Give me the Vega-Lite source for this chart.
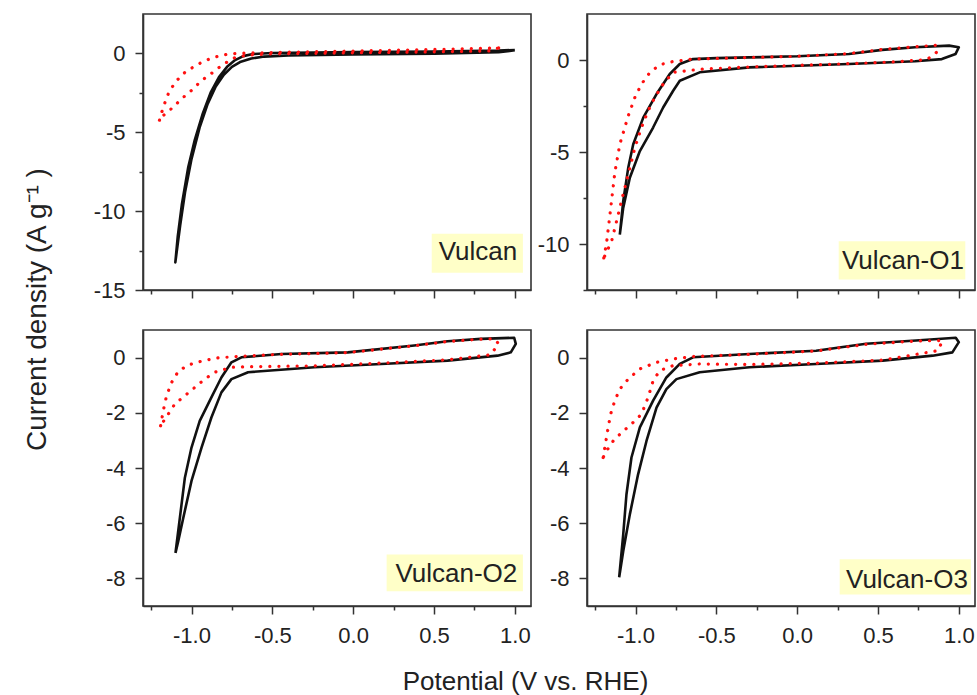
{
  "$schema": "https://vega.github.io/schema/vega-lite/v6.json",
  "padding": {"left": 22, "top": 13, "right": 2, "bottom": 0},
  "background": "white",
  "config": {
    "font": "Liberation Sans",
    "view": {"stroke": "#333333", "strokeWidth": 1.6},
    "axis": {"domainColor": "#333333", "domainWidth": 1.6, "tickColor": "#333333", "tickWidth": 1.5, "labelFontSize": 22, "labelColor": "#222222", "labelFont": "Liberation Sans", "titleFont": "Liberation Sans", "titleFontSize": 26, "titleFontWeight": "normal", "titleColor": "#222222", "grid": false, "labelFlush": false, "labelOverlap": false}
  },
  "datasets": {
    "cv": [
      {"panel":"V","series":"b","i":0,"E":1.0,"j":0.2},
      {"panel":"V","series":"b","i":1,"E":0.9,"j":0.08},
      {"panel":"V","series":"b","i":2,"E":0.5,"j":-0.02},
      {"panel":"V","series":"b","i":3,"E":0.0,"j":-0.07},
      {"panel":"V","series":"b","i":4,"E":-0.4,"j":-0.13},
      {"panel":"V","series":"b","i":5,"E":-0.55,"j":-0.2},
      {"panel":"V","series":"b","i":6,"E":-0.63,"j":-0.32},
      {"panel":"V","series":"b","i":7,"E":-0.7,"j":-0.55},
      {"panel":"V","series":"b","i":8,"E":-0.75,"j":-0.85},
      {"panel":"V","series":"b","i":9,"E":-0.8,"j":-1.35},
      {"panel":"V","series":"b","i":10,"E":-0.85,"j":-2.1},
      {"panel":"V","series":"b","i":11,"E":-0.9,"j":-3.2},
      {"panel":"V","series":"b","i":12,"E":-0.95,"j":-4.7},
      {"panel":"V","series":"b","i":13,"E":-1.0,"j":-6.7},
      {"panel":"V","series":"b","i":14,"E":-1.04,"j":-8.8},
      {"panel":"V","series":"b","i":15,"E":-1.07,"j":-10.9},
      {"panel":"V","series":"b","i":16,"E":-1.1,"j":-13.25},
      {"panel":"V","series":"b","i":17,"E":-1.085,"j":-11.6},
      {"panel":"V","series":"b","i":18,"E":-1.06,"j":-9.6},
      {"panel":"V","series":"b","i":19,"E":-1.02,"j":-7.2},
      {"panel":"V","series":"b","i":20,"E":-0.98,"j":-5.5},
      {"panel":"V","series":"b","i":21,"E":-0.93,"j":-3.8},
      {"panel":"V","series":"b","i":22,"E":-0.88,"j":-2.45},
      {"panel":"V","series":"b","i":23,"E":-0.83,"j":-1.5},
      {"panel":"V","series":"b","i":24,"E":-0.78,"j":-0.85},
      {"panel":"V","series":"b","i":25,"E":-0.73,"j":-0.42},
      {"panel":"V","series":"b","i":26,"E":-0.68,"j":-0.17},
      {"panel":"V","series":"b","i":27,"E":-0.62,"j":-0.04},
      {"panel":"V","series":"b","i":28,"E":-0.5,"j":0.03},
      {"panel":"V","series":"b","i":29,"E":0.0,"j":0.08},
      {"panel":"V","series":"b","i":30,"E":0.5,"j":0.12},
      {"panel":"V","series":"b","i":31,"E":0.9,"j":0.18},
      {"panel":"V","series":"b","i":32,"E":1.0,"j":0.22},

      {"panel":"V","series":"r","i":0,"E":0.9,"j":0.35},
      {"panel":"V","series":"r","i":1,"E":0.5,"j":0.25},
      {"panel":"V","series":"r","i":2,"E":0.0,"j":0.15},
      {"panel":"V","series":"r","i":3,"E":-0.5,"j":0.06},
      {"panel":"V","series":"r","i":4,"E":-0.7,"j":0.01},
      {"panel":"V","series":"r","i":5,"E":-0.784,"j":-0.06},
      {"panel":"V","series":"r","i":6,"E":-0.856,"j":-0.23},
      {"panel":"V","series":"r","i":7,"E":-0.928,"j":-0.51},
      {"panel":"V","series":"r","i":8,"E":-0.99,"j":-0.87},
      {"panel":"V","series":"r","i":9,"E":-1.04,"j":-1.19},
      {"panel":"V","series":"r","i":10,"E":-1.097,"j":-1.78},
      {"panel":"V","series":"r","i":11,"E":-1.14,"j":-2.46},
      {"panel":"V","series":"r","i":12,"E":-1.175,"j":-3.41},
      {"panel":"V","series":"r","i":13,"E":-1.2,"j":-4.3},
      {"panel":"V","series":"r","i":14,"E":-1.175,"j":-3.94},
      {"panel":"V","series":"r","i":15,"E":-1.113,"j":-3.41},
      {"panel":"V","series":"r","i":16,"E":-1.062,"j":-2.88},
      {"panel":"V","series":"r","i":17,"E":-1.0,"j":-2.35},
      {"panel":"V","series":"r","i":18,"E":-0.938,"j":-1.72},
      {"panel":"V","series":"r","i":19,"E":-0.866,"j":-1.19},
      {"panel":"V","series":"r","i":20,"E":-0.805,"j":-0.7},
      {"panel":"V","series":"r","i":21,"E":-0.733,"j":-0.27},
      {"panel":"V","series":"r","i":22,"E":-0.65,"j":-0.1},
      {"panel":"V","series":"r","i":23,"E":-0.5,"j":-0.03},
      {"panel":"V","series":"r","i":24,"E":0.0,"j":0.04},
      {"panel":"V","series":"r","i":25,"E":0.5,"j":0.1},
      {"panel":"V","series":"r","i":26,"E":0.85,"j":0.16},
      {"panel":"V","series":"r","i":27,"E":0.9,"j":0.35},

      {"panel":"O1","series":"b","i":0,"E":-1.097,"j":-9.49},
      {"panel":"O1","series":"b","i":1,"E":-1.076,"j":-7.67},
      {"panel":"O1","series":"b","i":2,"E":-1.045,"j":-5.86},
      {"panel":"O1","series":"b","i":3,"E":-1.014,"j":-4.58},
      {"panel":"O1","series":"b","i":4,"E":-0.952,"j":-3.13},
      {"panel":"O1","series":"b","i":5,"E":-0.87,"j":-1.85},
      {"panel":"O1","series":"b","i":6,"E":-0.788,"j":-0.76},
      {"panel":"O1","series":"b","i":7,"E":-0.726,"j":-0.22},
      {"panel":"O1","series":"b","i":8,"E":-0.644,"j":0.05},
      {"panel":"O1","series":"b","i":9,"E":-0.5,"j":0.1},
      {"panel":"O1","series":"b","i":10,"E":-0.296,"j":0.14},
      {"panel":"O1","series":"b","i":11,"E":0.0,"j":0.2},
      {"panel":"O1","series":"b","i":12,"E":0.32,"j":0.33},
      {"panel":"O1","series":"b","i":13,"E":0.526,"j":0.55},
      {"panel":"O1","series":"b","i":14,"E":0.73,"j":0.69},
      {"panel":"O1","series":"b","i":15,"E":0.94,"j":0.78},
      {"panel":"O1","series":"b","i":16,"E":1.0,"j":0.69},
      {"panel":"O1","series":"b","i":17,"E":0.98,"j":0.33},
      {"panel":"O1","series":"b","i":18,"E":0.895,"j":0.05},
      {"panel":"O1","series":"b","i":19,"E":0.73,"j":-0.07},
      {"panel":"O1","series":"b","i":20,"E":0.32,"j":-0.22},
      {"panel":"O1","series":"b","i":21,"E":-0.296,"j":-0.4},
      {"panel":"O1","series":"b","i":22,"E":-0.603,"j":-0.67},
      {"panel":"O1","series":"b","i":23,"E":-0.726,"j":-1.13},
      {"panel":"O1","series":"b","i":24,"E":-0.767,"j":-1.67},
      {"panel":"O1","series":"b","i":25,"E":-0.829,"j":-2.58},
      {"panel":"O1","series":"b","i":26,"E":-0.891,"j":-3.67},
      {"panel":"O1","series":"b","i":27,"E":-0.973,"j":-4.95},
      {"panel":"O1","series":"b","i":28,"E":-1.035,"j":-6.4},
      {"panel":"O1","series":"b","i":29,"E":-1.076,"j":-8.04},
      {"panel":"O1","series":"b","i":30,"E":-1.097,"j":-9.49},

      {"panel":"O1","series":"r","i":0,"E":-1.196,"j":-10.76},
      {"panel":"O1","series":"r","i":1,"E":-1.179,"j":-9.94},
      {"panel":"O1","series":"r","i":2,"E":-1.158,"j":-8.4},
      {"panel":"O1","series":"r","i":3,"E":-1.128,"j":-6.13},
      {"panel":"O1","series":"r","i":4,"E":-1.097,"j":-4.58},
      {"panel":"O1","series":"r","i":5,"E":-1.045,"j":-3.04},
      {"panel":"O1","series":"r","i":6,"E":-1.004,"j":-2.04},
      {"panel":"O1","series":"r","i":7,"E":-0.963,"j":-1.31},
      {"panel":"O1","series":"r","i":8,"E":-0.911,"j":-0.68},
      {"panel":"O1","series":"r","i":9,"E":-0.85,"j":-0.26},
      {"panel":"O1","series":"r","i":10,"E":-0.767,"j":-0.08},
      {"panel":"O1","series":"r","i":11,"E":-0.644,"j":0.05},
      {"panel":"O1","series":"r","i":12,"E":-0.3,"j":0.14},
      {"panel":"O1","series":"r","i":13,"E":0.0,"j":0.2},
      {"panel":"O1","series":"r","i":14,"E":0.32,"j":0.35},
      {"panel":"O1","series":"r","i":15,"E":0.526,"j":0.57},
      {"panel":"O1","series":"r","i":16,"E":0.73,"j":0.72},
      {"panel":"O1","series":"r","i":17,"E":0.86,"j":0.8},
      {"panel":"O1","series":"r","i":18,"E":0.87,"j":0.5},
      {"panel":"O1","series":"r","i":19,"E":0.85,"j":0.3},
      {"panel":"O1","series":"r","i":20,"E":0.8,"j":0.02},
      {"panel":"O1","series":"r","i":21,"E":0.6,"j":-0.1},
      {"panel":"O1","series":"r","i":22,"E":0.32,"j":-0.2},
      {"panel":"O1","series":"r","i":23,"E":-0.3,"j":-0.38},
      {"panel":"O1","series":"r","i":24,"E":-0.6,"j":-0.5},
      {"panel":"O1","series":"r","i":25,"E":-0.767,"j":-0.67},
      {"panel":"O1","series":"r","i":26,"E":-0.829,"j":-1.31},
      {"panel":"O1","series":"r","i":27,"E":-0.881,"j":-2.04},
      {"panel":"O1","series":"r","i":28,"E":-0.922,"j":-2.76},
      {"panel":"O1","series":"r","i":29,"E":-0.963,"j":-3.67},
      {"panel":"O1","series":"r","i":30,"E":-1.004,"j":-4.77},
      {"panel":"O1","series":"r","i":31,"E":-1.045,"j":-6.22},
      {"panel":"O1","series":"r","i":32,"E":-1.087,"j":-7.67},
      {"panel":"O1","series":"r","i":33,"E":-1.117,"j":-8.76},
      {"panel":"O1","series":"r","i":34,"E":-1.148,"j":-9.85},
      {"panel":"O1","series":"r","i":35,"E":-1.196,"j":-10.76},

      {"panel":"O2","series":"b","i":0,"E":-1.099,"j":-7.08},
      {"panel":"O2","series":"b","i":1,"E":-1.072,"j":-5.81},
      {"panel":"O2","series":"b","i":2,"E":-1.041,"j":-4.35},
      {"panel":"O2","series":"b","i":3,"E":-1.0,"j":-3.26},
      {"panel":"O2","series":"b","i":4,"E":-0.949,"j":-2.29},
      {"panel":"O2","series":"b","i":5,"E":-0.877,"j":-1.44},
      {"panel":"O2","series":"b","i":6,"E":-0.815,"j":-0.72},
      {"panel":"O2","series":"b","i":7,"E":-0.753,"j":-0.17},
      {"panel":"O2","series":"b","i":8,"E":-0.691,"j":0.01},
      {"panel":"O2","series":"b","i":9,"E":-0.444,"j":0.13},
      {"panel":"O2","series":"b","i":10,"E":-0.033,"j":0.19},
      {"panel":"O2","series":"b","i":11,"E":0.378,"j":0.44},
      {"panel":"O2","series":"b","i":12,"E":0.584,"j":0.59},
      {"panel":"O2","series":"b","i":13,"E":0.79,"j":0.68},
      {"panel":"O2","series":"b","i":14,"E":0.996,"j":0.72},
      {"panel":"O2","series":"b","i":15,"E":1.006,"j":0.5},
      {"panel":"O2","series":"b","i":16,"E":0.975,"j":0.19},
      {"panel":"O2","series":"b","i":17,"E":0.893,"j":0.07},
      {"panel":"O2","series":"b","i":18,"E":0.584,"j":-0.11},
      {"panel":"O2","series":"b","i":19,"E":0.173,"j":-0.23},
      {"panel":"O2","series":"b","i":20,"E":-0.239,"j":-0.35},
      {"panel":"O2","series":"b","i":21,"E":-0.65,"j":-0.53},
      {"panel":"O2","series":"b","i":22,"E":-0.753,"j":-0.78},
      {"panel":"O2","series":"b","i":23,"E":-0.815,"j":-1.26},
      {"panel":"O2","series":"b","i":24,"E":-0.877,"j":-2.17},
      {"panel":"O2","series":"b","i":25,"E":-0.938,"j":-3.26},
      {"panel":"O2","series":"b","i":26,"E":-1.0,"j":-4.47},
      {"panel":"O2","series":"b","i":27,"E":-1.051,"j":-5.81},
      {"panel":"O2","series":"b","i":28,"E":-1.082,"j":-6.65},
      {"panel":"O2","series":"b","i":29,"E":-1.099,"j":-7.08},

      {"panel":"O2","series":"r","i":0,"E":-1.191,"j":-2.47},
      {"panel":"O2","series":"r","i":1,"E":-1.175,"j":-1.93},
      {"panel":"O2","series":"r","i":2,"E":-1.154,"j":-1.38},
      {"panel":"O2","series":"r","i":3,"E":-1.123,"j":-0.9},
      {"panel":"O2","series":"r","i":4,"E":-1.082,"j":-0.5},
      {"panel":"O2","series":"r","i":5,"E":-1.021,"j":-0.27},
      {"panel":"O2","series":"r","i":6,"E":-0.928,"j":-0.11},
      {"panel":"O2","series":"r","i":7,"E":-0.835,"j":-0.01},
      {"panel":"O2","series":"r","i":8,"E":-0.69,"j":0.05},
      {"panel":"O2","series":"r","i":9,"E":-0.444,"j":0.12},
      {"panel":"O2","series":"r","i":10,"E":-0.033,"j":0.18},
      {"panel":"O2","series":"r","i":11,"E":0.378,"j":0.43},
      {"panel":"O2","series":"r","i":12,"E":0.584,"j":0.58},
      {"panel":"O2","series":"r","i":13,"E":0.79,"j":0.67},
      {"panel":"O2","series":"r","i":14,"E":0.873,"j":0.68},
      {"panel":"O2","series":"r","i":15,"E":0.9,"j":0.5},
      {"panel":"O2","series":"r","i":16,"E":0.85,"j":0.1},
      {"panel":"O2","series":"r","i":17,"E":0.584,"j":-0.08},
      {"panel":"O2","series":"r","i":18,"E":0.173,"j":-0.2},
      {"panel":"O2","series":"r","i":19,"E":-0.239,"j":-0.3},
      {"panel":"O2","series":"r","i":20,"E":-0.65,"j":-0.33},
      {"panel":"O2","series":"r","i":21,"E":-0.753,"j":-0.35},
      {"panel":"O2","series":"r","i":22,"E":-0.856,"j":-0.53},
      {"panel":"O2","series":"r","i":23,"E":-0.918,"j":-0.78},
      {"panel":"O2","series":"r","i":24,"E":-0.979,"j":-1.08},
      {"panel":"O2","series":"r","i":25,"E":-1.041,"j":-1.38},
      {"panel":"O2","series":"r","i":26,"E":-1.103,"j":-1.68},
      {"panel":"O2","series":"r","i":27,"E":-1.144,"j":-2.05},
      {"panel":"O2","series":"r","i":28,"E":-1.191,"j":-2.47},

      {"panel":"O3","series":"b","i":0,"E":-1.101,"j":-7.96},
      {"panel":"O3","series":"b","i":1,"E":-1.076,"j":-6.41},
      {"panel":"O3","series":"b","i":2,"E":-1.056,"j":-4.96},
      {"panel":"O3","series":"b","i":3,"E":-1.025,"j":-3.62},
      {"panel":"O3","series":"b","i":4,"E":-0.973,"j":-2.53},
      {"panel":"O3","series":"b","i":5,"E":-0.891,"j":-1.56},
      {"panel":"O3","series":"b","i":6,"E":-0.809,"j":-0.72},
      {"panel":"O3","series":"b","i":7,"E":-0.726,"j":-0.23},
      {"panel":"O3","series":"b","i":8,"E":-0.644,"j":0.01},
      {"panel":"O3","series":"b","i":9,"E":-0.296,"j":0.13},
      {"panel":"O3","series":"b","i":10,"E":0.117,"j":0.25},
      {"panel":"O3","series":"b","i":11,"E":0.426,"j":0.5},
      {"panel":"O3","series":"b","i":12,"E":0.735,"j":0.62},
      {"panel":"O3","series":"b","i":13,"E":0.981,"j":0.72},
      {"panel":"O3","series":"b","i":14,"E":1.0,"j":0.56},
      {"panel":"O3","series":"b","i":15,"E":0.96,"j":0.19},
      {"panel":"O3","series":"b","i":16,"E":0.838,"j":0.07},
      {"panel":"O3","series":"b","i":17,"E":0.529,"j":-0.11},
      {"panel":"O3","series":"b","i":18,"E":0.117,"j":-0.23},
      {"panel":"O3","series":"b","i":19,"E":-0.296,"j":-0.35},
      {"panel":"O3","series":"b","i":20,"E":-0.603,"j":-0.53},
      {"panel":"O3","series":"b","i":21,"E":-0.747,"j":-0.78},
      {"panel":"O3","series":"b","i":22,"E":-0.809,"j":-1.14},
      {"panel":"O3","series":"b","i":23,"E":-0.87,"j":-1.81},
      {"panel":"O3","series":"b","i":24,"E":-0.932,"j":-3.02},
      {"panel":"O3","series":"b","i":25,"E":-0.984,"j":-4.23},
      {"panel":"O3","series":"b","i":26,"E":-1.035,"j":-5.68},
      {"panel":"O3","series":"b","i":27,"E":-1.076,"j":-7.02},
      {"panel":"O3","series":"b","i":28,"E":-1.101,"j":-7.96},

      {"panel":"O3","series":"r","i":0,"E":-1.2,"j":-3.62},
      {"panel":"O3","series":"r","i":1,"E":-1.183,"j":-3.02},
      {"panel":"O3","series":"r","i":2,"E":-1.169,"j":-2.53},
      {"panel":"O3","series":"r","i":3,"E":-1.154,"j":-2.05},
      {"panel":"O3","series":"r","i":4,"E":-1.128,"j":-1.56},
      {"panel":"O3","series":"r","i":5,"E":-1.097,"j":-1.14},
      {"panel":"O3","series":"r","i":6,"E":-1.045,"j":-0.78},
      {"panel":"O3","series":"r","i":7,"E":-0.973,"j":-0.41},
      {"panel":"O3","series":"r","i":8,"E":-0.87,"j":-0.17},
      {"panel":"O3","series":"r","i":9,"E":-0.767,"j":-0.05},
      {"panel":"O3","series":"r","i":10,"E":-0.644,"j":0.04},
      {"panel":"O3","series":"r","i":11,"E":-0.296,"j":0.12},
      {"panel":"O3","series":"r","i":12,"E":0.117,"j":0.24},
      {"panel":"O3","series":"r","i":13,"E":0.426,"j":0.48},
      {"panel":"O3","series":"r","i":14,"E":0.735,"j":0.6},
      {"panel":"O3","series":"r","i":15,"E":0.9,"j":0.62},
      {"panel":"O3","series":"r","i":16,"E":0.87,"j":0.25},
      {"panel":"O3","series":"r","i":17,"E":0.529,"j":-0.09},
      {"panel":"O3","series":"r","i":18,"E":0.117,"j":-0.2},
      {"panel":"O3","series":"r","i":19,"E":-0.296,"j":-0.25},
      {"panel":"O3","series":"r","i":20,"E":-0.603,"j":-0.23},
      {"panel":"O3","series":"r","i":21,"E":-0.767,"j":-0.29},
      {"panel":"O3","series":"r","i":22,"E":-0.85,"j":-0.47},
      {"panel":"O3","series":"r","i":23,"E":-0.891,"j":-0.84},
      {"panel":"O3","series":"r","i":24,"E":-0.922,"j":-1.44},
      {"panel":"O3","series":"r","i":25,"E":-0.963,"j":-2.05},
      {"panel":"O3","series":"r","i":26,"E":-1.025,"j":-2.41},
      {"panel":"O3","series":"r","i":27,"E":-1.087,"j":-2.72},
      {"panel":"O3","series":"r","i":28,"E":-1.138,"j":-3.02},
      {"panel":"O3","series":"r","i":29,"E":-1.179,"j":-3.38},
      {"panel":"O3","series":"r","i":30,"E":-1.2,"j":-3.62}
    ]
  },
  "columns": 2,
  "bounds": "flush",
  "spacing": {"row": 40, "column": 56},
  "concat": [
    {
      "width": 388, "height": 276,
      "layer": [
        {
          "data": {"values": [{}]},
          "mark": {"type": "rect", "color": "#ffffc8"},
          "encoding": {
            "x": {"datum": 0.486, "type": "quantitative", "scale": {"domain": [-1.3, 1.1], "nice": false, "zero": false}}, "x2": {"datum": 1.05},
            "y": {"datum": -11.44, "type": "quantitative", "scale": {"domain": [-15, 2.5], "nice": false, "zero": false}}, "y2": {"datum": -13.91}
          }
        },
        {
          "data": {"name": "cv"},
          "transform": [{"filter": "datum.panel === 'V' && datum.series === 'b'"}],
          "mark": {"type": "line", "color": "#111111", "strokeWidth": 2.6, "strokeJoin": "round"},
          "encoding": {
            "x": {"field": "E", "type": "quantitative", "scale": {"domain": [-1.3, 1.1], "nice": false, "zero": false},
                  "axis": {"values": [-1.25,-1,-0.75,-0.5,-0.25,0,0.25,0.5,0.75,1], "labels": false, "title": null,
                           "tickSize": {"condition": {"test": "abs(datum.value*2 - round(datum.value*2)) < 0.01", "value": 8}, "value": 4}}},
            "y": {"field": "j", "type": "quantitative", "scale": {"domain": [-15, 2.5], "nice": false, "zero": false},
                  "axis": {"values": [-15,-12.5,-10,-7.5,-5,-2.5,0],
                           "labelExpr": "abs(datum.value/5 - round(datum.value/5)) < 0.01 ? '' + datum.value : ''",
                           "labelPadding": 10,
                           "tickSize": {"condition": {"test": "abs(datum.value/5 - round(datum.value/5)) < 0.01", "value": 8}, "value": 4},
                           "title": "Current density (A g⁻¹ )", "titleX": -98, "titleY": 295, "titleAngle": -90, "titleFontSize": 28,
                           "titleAlign": "center", "titleBaseline": "alphabetic"}},
            "order": {"field": "i", "type": "quantitative"}
          }
        },
        {
          "data": {"name": "cv"},
          "transform": [{"filter": "datum.panel === 'V' && datum.series === 'r'"}],
          "mark": {"type": "line", "color": "#ff1010", "strokeWidth": 3.2, "strokeDash": [0.1, 9], "strokeCap": "round"},
          "encoding": {
            "x": {"field": "E", "type": "quantitative", "scale": {"domain": [-1.3, 1.1], "nice": false, "zero": false}},
            "y": {"field": "j", "type": "quantitative", "scale": {"domain": [-15, 2.5], "nice": false, "zero": false}},
            "order": {"field": "i", "type": "quantitative"}
          }
        },
        {
          "data": {"values": [{}]},
          "mark": {"type": "text", "text": "Vulcan", "align": "right", "baseline": "middle", "fontSize": 26, "color": "#222222"},
          "encoding": {
            "x": {"datum": 1.015, "type": "quantitative", "scale": {"domain": [-1.3, 1.1], "nice": false, "zero": false}},
            "y": {"datum": -12.61, "type": "quantitative", "scale": {"domain": [-15, 2.5], "nice": false, "zero": false}}
          }
        }
      ]
    },
    {
      "width": 388, "height": 276,
      "layer": [
        {
          "data": {"values": [{}]},
          "mark": {"type": "rect", "color": "#ffffc8"},
          "encoding": {
            "x": {"datum": 0.257, "type": "quantitative", "scale": {"domain": [-1.3, 1.1], "nice": false, "zero": false}}, "x2": {"datum": 1.04},
            "y": {"datum": -9.85, "type": "quantitative", "scale": {"domain": [-12.5, 2.5], "nice": false, "zero": false}}, "y2": {"datum": -11.93}
          }
        },
        {
          "data": {"name": "cv"},
          "transform": [{"filter": "datum.panel === 'O1' && datum.series === 'b'"}],
          "mark": {"type": "line", "color": "#111111", "strokeWidth": 2.6, "strokeJoin": "round"},
          "encoding": {
            "x": {"field": "E", "type": "quantitative", "scale": {"domain": [-1.3, 1.1], "nice": false, "zero": false},
                  "axis": {"values": [-1.25,-1,-0.75,-0.5,-0.25,0,0.25,0.5,0.75,1], "labels": false, "title": null,
                           "tickSize": {"condition": {"test": "abs(datum.value*2 - round(datum.value*2)) < 0.01", "value": 8}, "value": 4}}},
            "y": {"field": "j", "type": "quantitative", "scale": {"domain": [-12.5, 2.5], "nice": false, "zero": false},
                  "axis": {"values": [-12.5,-10,-7.5,-5,-2.5,0],
                           "labelExpr": "abs(datum.value/5 - round(datum.value/5)) < 0.01 ? '' + datum.value : ''",
                           "labelPadding": 10,
                           "tickSize": {"condition": {"test": "abs(datum.value/5 - round(datum.value/5)) < 0.01", "value": 8}, "value": 4},
                           "title": null}},
            "order": {"field": "i", "type": "quantitative"}
          }
        },
        {
          "data": {"name": "cv"},
          "transform": [{"filter": "datum.panel === 'O1' && datum.series === 'r'"}],
          "mark": {"type": "line", "color": "#ff1010", "strokeWidth": 3.2, "strokeDash": [0.1, 9], "strokeCap": "round"},
          "encoding": {
            "x": {"field": "E", "type": "quantitative", "scale": {"domain": [-1.3, 1.1], "nice": false, "zero": false}},
            "y": {"field": "j", "type": "quantitative", "scale": {"domain": [-12.5, 2.5], "nice": false, "zero": false}},
            "order": {"field": "i", "type": "quantitative"}
          }
        },
        {
          "data": {"values": [{}]},
          "mark": {"type": "text", "text": "Vulcan-O1", "align": "right", "baseline": "middle", "fontSize": 26, "color": "#222222"},
          "encoding": {
            "x": {"datum": 1.031, "type": "quantitative", "scale": {"domain": [-1.3, 1.1], "nice": false, "zero": false}},
            "y": {"datum": -10.94, "type": "quantitative", "scale": {"domain": [-12.5, 2.5], "nice": false, "zero": false}}
          }
        }
      ]
    },
    {
      "width": 388, "height": 276,
      "layer": [
        {
          "data": {"values": [{}]},
          "mark": {"type": "rect", "color": "#ffffc8"},
          "encoding": {
            "x": {"datum": 0.207, "type": "quantitative", "scale": {"domain": [-1.3, 1.1], "nice": false, "zero": false}}, "x2": {"datum": 1.05},
            "y": {"datum": -7.13, "type": "quantitative", "scale": {"domain": [-9, 1], "nice": false, "zero": false}}, "y2": {"datum": -8.47}
          }
        },
        {
          "data": {"name": "cv"},
          "transform": [{"filter": "datum.panel === 'O2' && datum.series === 'b'"}],
          "mark": {"type": "line", "color": "#111111", "strokeWidth": 2.6, "strokeJoin": "round"},
          "encoding": {
            "x": {"field": "E", "type": "quantitative", "scale": {"domain": [-1.3, 1.1], "nice": false, "zero": false},
                  "axis": {"values": [-1.25,-1,-0.75,-0.5,-0.25,0,0.25,0.5,0.75,1],
                           "labelExpr": "abs(datum.value*2 - round(datum.value*2)) < 0.01 ? (datum.value < 0 ? '-' : '') + format(abs(datum.value), '.1f') : ''",
                           "labelPadding": 11,
                           "tickSize": {"condition": {"test": "abs(datum.value*2 - round(datum.value*2)) < 0.01", "value": 8}, "value": 4},
                           "title": "Potential (V vs. RHE)", "titleX": 382, "titleY": 83, "titleAlign": "center", "titleBaseline": "alphabetic"}},
            "y": {"field": "j", "type": "quantitative", "scale": {"domain": [-9, 1], "nice": false, "zero": false},
                  "axis": {"values": [-8,-7,-6,-5,-4,-3,-2,-1,0],
                           "labelExpr": "abs(datum.value/2 - round(datum.value/2)) < 0.01 ? '' + datum.value : ''",
                           "labelPadding": 10,
                           "tickSize": {"condition": {"test": "abs(datum.value/2 - round(datum.value/2)) < 0.01", "value": 8}, "value": 4},
                           "title": null}},
            "order": {"field": "i", "type": "quantitative"}
          }
        },
        {
          "data": {"name": "cv"},
          "transform": [{"filter": "datum.panel === 'O2' && datum.series === 'r'"}],
          "mark": {"type": "line", "color": "#ff1010", "strokeWidth": 3.2, "strokeDash": [0.1, 9], "strokeCap": "round"},
          "encoding": {
            "x": {"field": "E", "type": "quantitative", "scale": {"domain": [-1.3, 1.1], "nice": false, "zero": false}},
            "y": {"field": "j", "type": "quantitative", "scale": {"domain": [-9, 1], "nice": false, "zero": false}},
            "order": {"field": "i", "type": "quantitative"}
          }
        },
        {
          "data": {"values": [{}]},
          "mark": {"type": "text", "text": "Vulcan-O2", "align": "right", "baseline": "middle", "fontSize": 26, "color": "#222222"},
          "encoding": {
            "x": {"datum": 1.015, "type": "quantitative", "scale": {"domain": [-1.3, 1.1], "nice": false, "zero": false}},
            "y": {"datum": -7.84, "type": "quantitative", "scale": {"domain": [-9, 1], "nice": false, "zero": false}}
          }
        }
      ]
    },
    {
      "width": 388, "height": 276,
      "layer": [
        {
          "data": {"values": [{}]},
          "mark": {"type": "rect", "color": "#ffffc8"},
          "encoding": {
            "x": {"datum": 0.263, "type": "quantitative", "scale": {"domain": [-1.3, 1.1], "nice": false, "zero": false}}, "x2": {"datum": 1.075},
            "y": {"datum": -7.31, "type": "quantitative", "scale": {"domain": [-9, 1], "nice": false, "zero": false}}, "y2": {"datum": -8.58}
          }
        },
        {
          "data": {"name": "cv"},
          "transform": [{"filter": "datum.panel === 'O3' && datum.series === 'b'"}],
          "mark": {"type": "line", "color": "#111111", "strokeWidth": 2.6, "strokeJoin": "round"},
          "encoding": {
            "x": {"field": "E", "type": "quantitative", "scale": {"domain": [-1.3, 1.1], "nice": false, "zero": false},
                  "axis": {"values": [-1.25,-1,-0.75,-0.5,-0.25,0,0.25,0.5,0.75,1],
                           "labelExpr": "abs(datum.value*2 - round(datum.value*2)) < 0.01 ? (datum.value < 0 ? '-' : '') + format(abs(datum.value), '.1f') : ''",
                           "labelPadding": 11,
                           "tickSize": {"condition": {"test": "abs(datum.value*2 - round(datum.value*2)) < 0.01", "value": 8}, "value": 4},
                           "title": null}},
            "y": {"field": "j", "type": "quantitative", "scale": {"domain": [-9, 1], "nice": false, "zero": false},
                  "axis": {"values": [-8,-7,-6,-5,-4,-3,-2,-1,0],
                           "labelExpr": "abs(datum.value/2 - round(datum.value/2)) < 0.01 ? '' + datum.value : ''",
                           "labelPadding": 10,
                           "tickSize": {"condition": {"test": "abs(datum.value/2 - round(datum.value/2)) < 0.01", "value": 8}, "value": 4},
                           "title": null}},
            "order": {"field": "i", "type": "quantitative"}
          }
        },
        {
          "data": {"name": "cv"},
          "transform": [{"filter": "datum.panel === 'O3' && datum.series === 'r'"}],
          "mark": {"type": "line", "color": "#ff1010", "strokeWidth": 3.2, "strokeDash": [0.1, 9], "strokeCap": "round"},
          "encoding": {
            "x": {"field": "E", "type": "quantitative", "scale": {"domain": [-1.3, 1.1], "nice": false, "zero": false}},
            "y": {"field": "j", "type": "quantitative", "scale": {"domain": [-9, 1], "nice": false, "zero": false}},
            "order": {"field": "i", "type": "quantitative"}
          }
        },
        {
          "data": {"values": [{}]},
          "mark": {"type": "text", "text": "Vulcan-O3", "align": "right", "baseline": "middle", "fontSize": 26, "color": "#222222"},
          "encoding": {
            "x": {"datum": 1.056, "type": "quantitative", "scale": {"domain": [-1.3, 1.1], "nice": false, "zero": false}},
            "y": {"datum": -8.07, "type": "quantitative", "scale": {"domain": [-9, 1], "nice": false, "zero": false}}
          }
        }
      ]
    }
  ]
}
